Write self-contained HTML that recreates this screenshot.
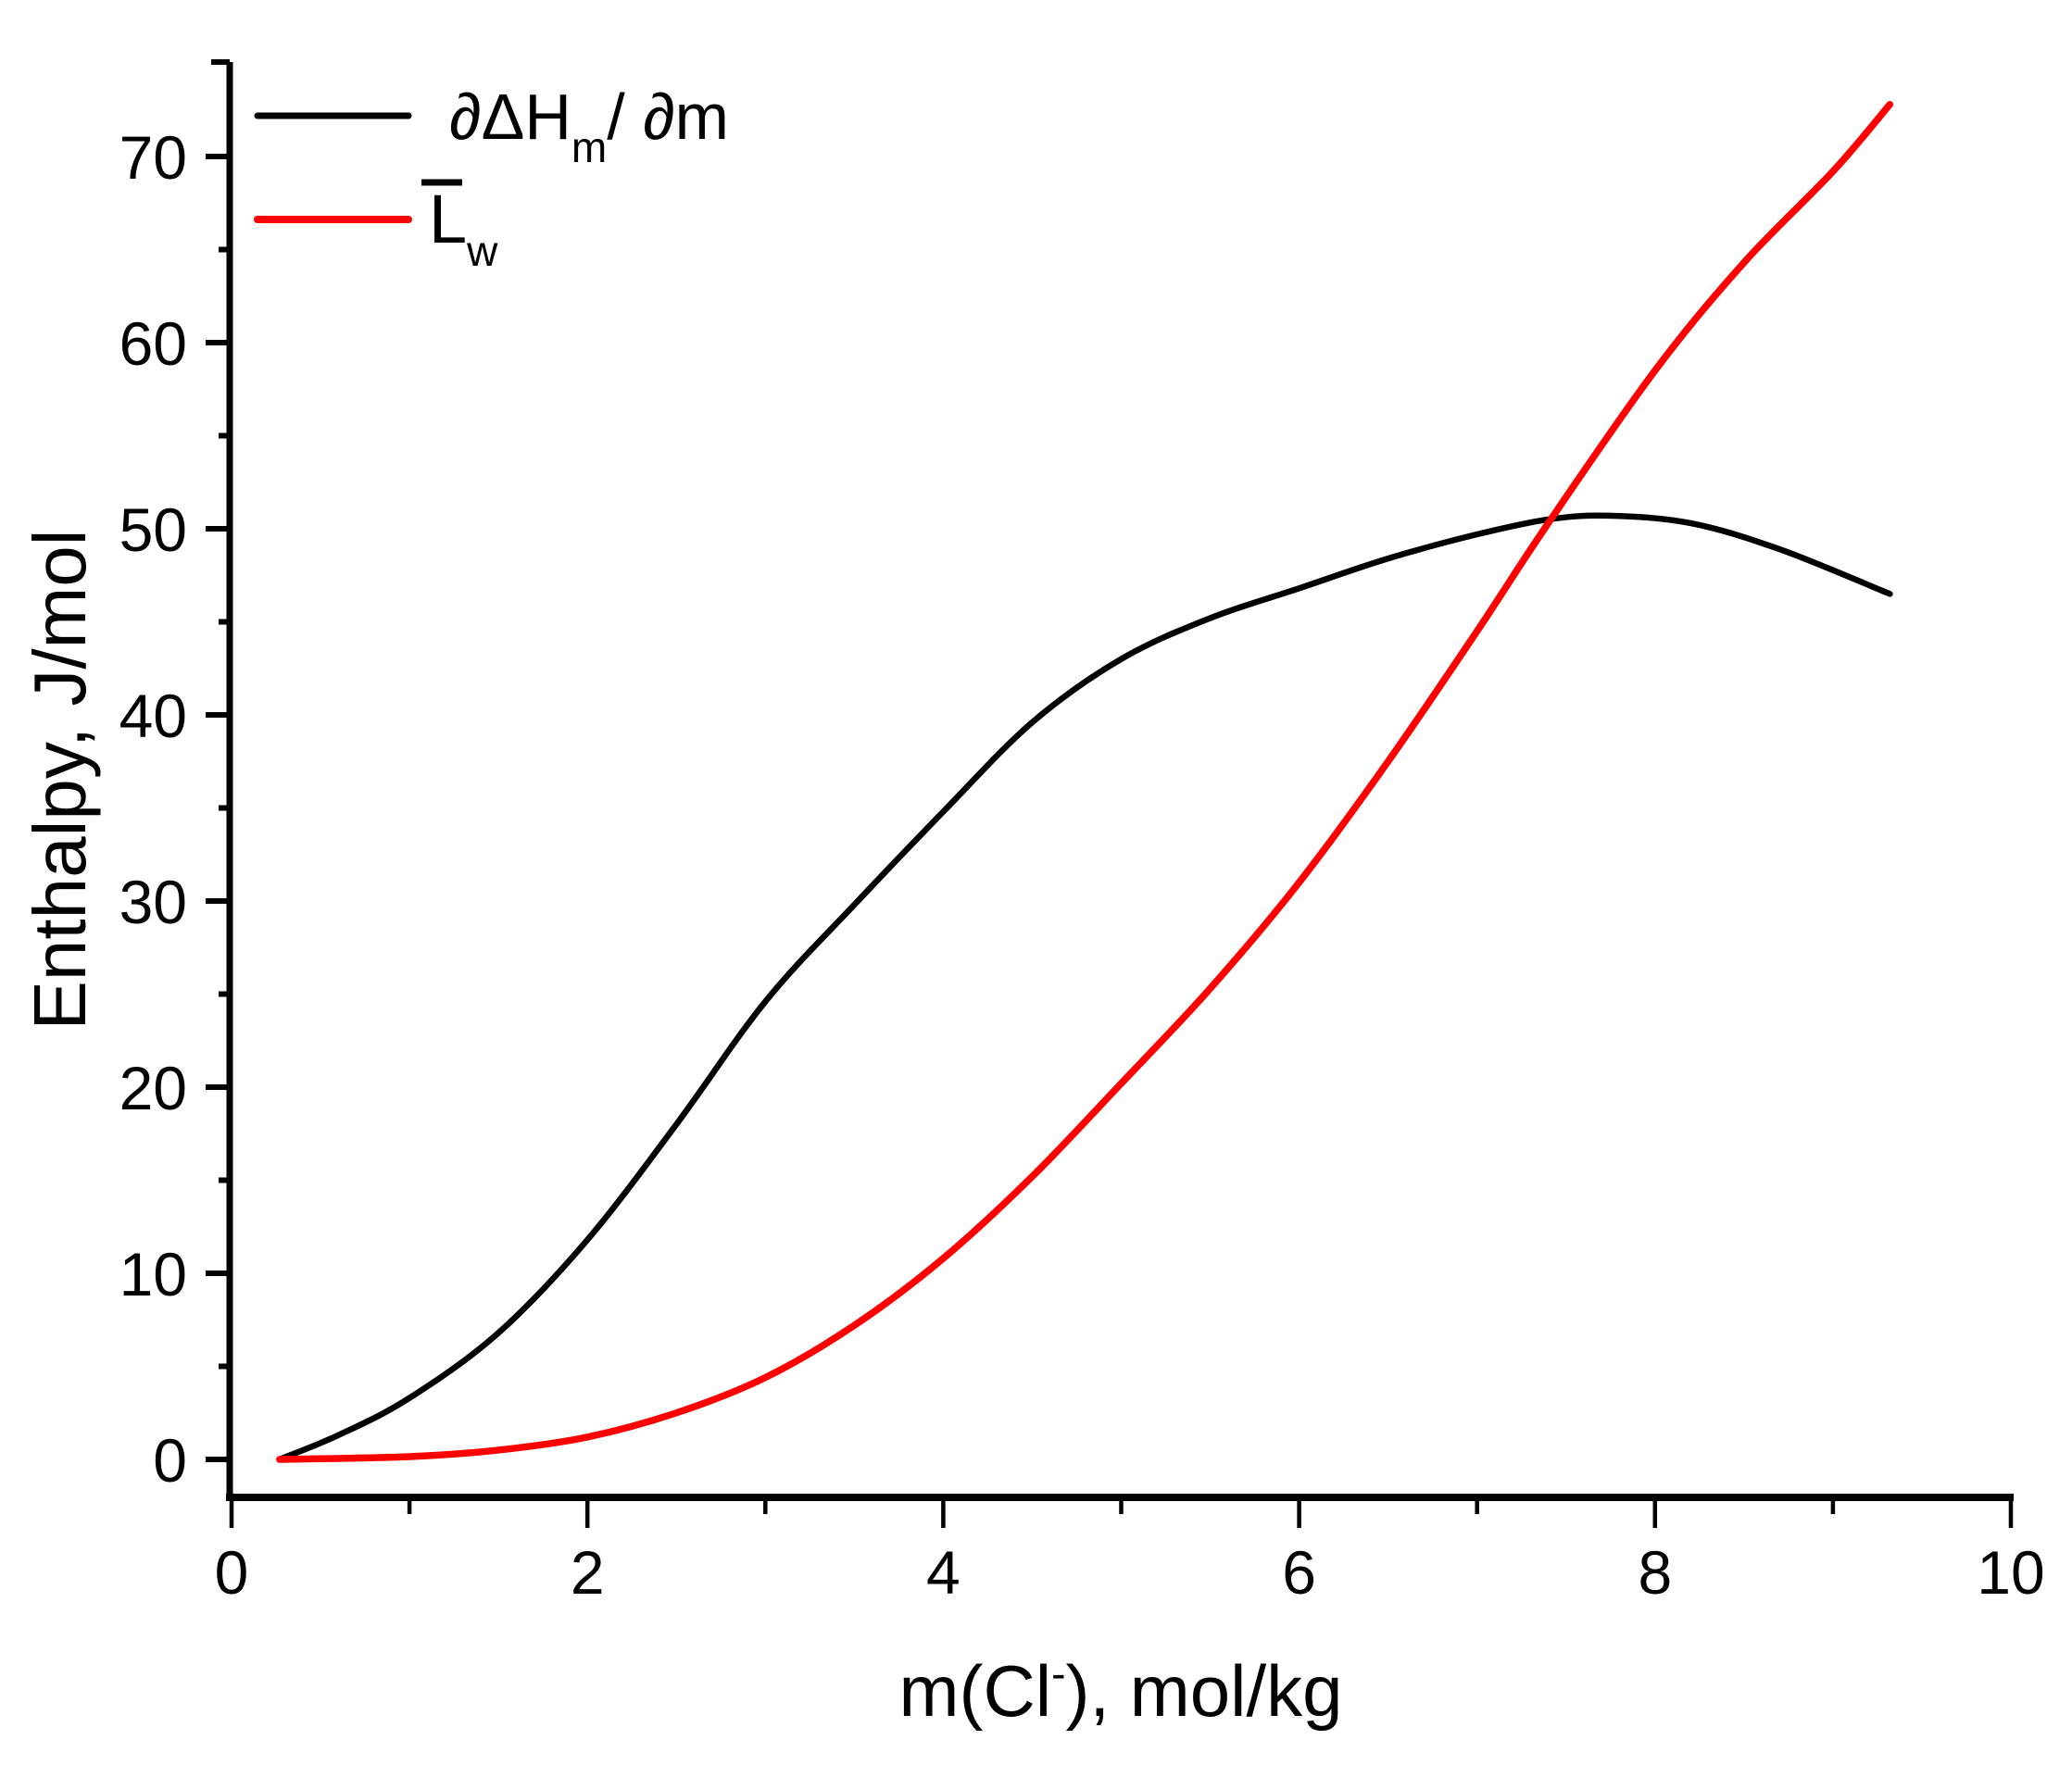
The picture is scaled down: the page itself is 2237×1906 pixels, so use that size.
<!DOCTYPE html>
<html><head><meta charset="utf-8"><style>
html,body{margin:0;padding:0;background:#fff;}
svg{display:block;}
text{font-family:"Liberation Sans",Arial,sans-serif;fill:#000;}
</style></head><body>
<svg id="s" width="2237" height="1906" viewBox="0 0 2237 1906" xmlns="http://www.w3.org/2000/svg">
<rect width="2237" height="1906" fill="#fff"/>
<g id="ax" stroke="#000" stroke-linecap="butt"></g>
<g id="lbl" font-size="66"></g>
<path id="black" fill="none" stroke="#000" stroke-width="6.5" stroke-linejoin="round" stroke-linecap="round"/>
<path id="red" fill="none" stroke="#ff0000" stroke-width="7.5" stroke-linejoin="round" stroke-linecap="round"/>
<!-- legend -->
<line x1="278" y1="125" x2="441" y2="125" stroke="#000" stroke-width="7" stroke-linecap="round"/>
<line x1="278" y1="237" x2="441" y2="237" stroke="#ff0000" stroke-width="8" stroke-linecap="round"/>
<text x="485" y="150" font-size="70" textLength="302" lengthAdjust="spacingAndGlyphs">∂ΔH<tspan font-size="46" dy="25">m</tspan><tspan dy="-25">/ ∂m</tspan></text>
<line x1="455" y1="197" x2="499" y2="197" stroke="#000" stroke-width="7"/>
<text x="463" y="262" font-size="74">L<tspan font-size="46" dy="25">w</tspan></text>
<!-- axis titles -->
<text x="1210" y="1853" font-size="78" text-anchor="middle">m(Cl<tspan font-size="46" dy="-30">-</tspan><tspan dy="30">), mol/kg</tspan></text>
<text transform="translate(92,842) rotate(-90)" font-size="80" text-anchor="middle">Enthalpy, J/mol</text>
</svg>
<script>
const X0=250,SX=192.1,Y0=1576,SY=20.1;
const px=x=>X0+x*SX, py=y=>Y0-y*SY;
const ax=document.getElementById('ax'), lbl=document.getElementById('lbl');
let h='';
h+=`<line x1="248" y1="67" x2="248" y2="1620" stroke-width="7"/>`;
h+=`<line x1="244" y1="1617" x2="2174" y2="1617" stroke-width="8"/>`;
h+=`<line x1="228" y1="67" x2="248" y2="67" stroke-width="6"/>`;
let t='';
for(let v=0;v<=70;v+=5){const y=py(v);const maj=v%10==0;
 h+=`<line x1="${maj?222:236}" y1="${y}" x2="248" y2="${y}" stroke-width="6"/>`;
 if(maj)t+=`<text x="202" y="${y+24}" text-anchor="end">${v}</text>`;}
for(let v=0;v<=10;v++){const x=px(v);const maj=v%2==0;
 h+=`<line x1="${x}" y1="1617" x2="${x}" y2="${maj?1650:1635}" stroke-width="4.5"/>`;
 if(maj)t+=`<text x="${x}" y="1721" text-anchor="middle">${v}</text>`;}
ax.innerHTML=h;lbl.innerHTML=t;
function path(pts){
 const P=pts.map(p=>[px(p[0]),py(p[1])]);
 let d=`M${P[0][0]},${P[0][1]}`;
 for(let i=0;i<P.length-1;i++){
  const p0=P[Math.max(i-1,0)],p1=P[i],p2=P[i+1],p3=P[Math.min(i+2,P.length-1)];
  const c1=[p1[0]+(p2[0]-p0[0])/6,p1[1]+(p2[1]-p0[1])/6];
  const c2=[p2[0]-(p3[0]-p1[0])/6,p2[1]-(p3[1]-p1[1])/6];
  d+=` C${c1[0]},${c1[1]} ${c2[0]},${c2[1]} ${p2[0]},${p2[1]}`;}
 return d;}
const B=[[0.27,0],[0.6,1.3],[1,3.3],[1.5,6.8],[2,11.8],[2.5,18],[3,24.6],[3.5,29.8],[4,34.8],[4.5,39.6],[5,43],[5.5,45.2],[6,46.8],[6.5,48.4],[7,49.7],[7.4,50.5],[7.74,50.7],[8.2,50.3],[8.7,48.9],[9.32,46.5]];
const R=[[0.27,0],[1,0.15],[1.5,0.5],[2,1.2],[2.5,2.5],[3,4.4],[3.5,7.2],[4,10.8],[4.5,15.2],[5,20.2],[5.5,25.3],[6,31],[6.5,37.5],[7,44.5],[7.4,50.3],[8,58.5],[8.5,64.3],[9,69.2],[9.32,72.8]];
document.getElementById('black').setAttribute('d',path(B));
document.getElementById('red').setAttribute('d',path(R));
</script>
</body></html>
